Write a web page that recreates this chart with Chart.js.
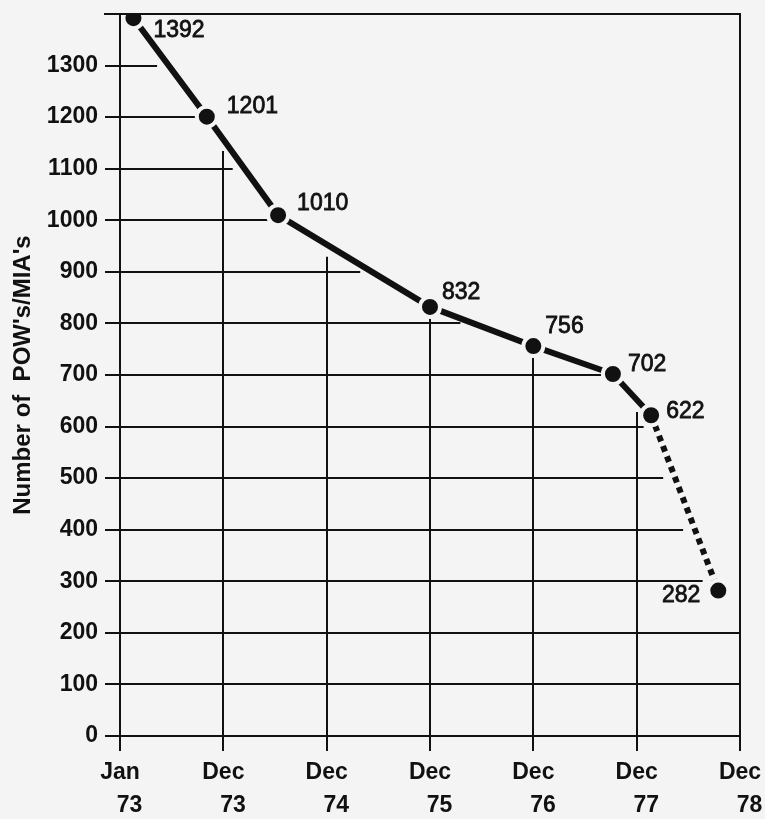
<!DOCTYPE html>
<html>
<head>
<meta charset="utf-8">
<script src="https://cdn.jsdelivr.net/npm/chart.js@4.4.1/dist/chart.umd.min.js"></script>
<style>
  html, body { margin: 0; padding: 0; background: #f4f4f4; }
  canvas { display: block; }
</style>
</head>
<body>
<canvas id="powChart" width="765" height="819"></canvas>
<script>
(function(){
  // x axis: one unit per tick interval (Jan 73, Dec 73 ... Dec 78)
  const xTickLabels = [['Jan', '   73'], ['Dec', '   73'], ['Dec', '   74'], ['Dec', '   75'], ['Dec', '   76'], ['Dec', '   77'], ['Dec', '   78']];
  const pointPositions = [0.13, 0.84, 1.53, 3.0, 4.0, 4.77, 5.14, 5.79];
  const pointValues = [1392, 1201, 1010, 832, 756, 702, 622, 282];
  const projectedFrom = 6; // segment 622 -> 282 is dotted
  const yMin = 0, yMax = 1400, yStep = 100;
  const yTitle = "Number of  POW's/MIA's";

  // label placement next to each dot (style only)
  const labelOffsets = [[20, 13], [20, -10], [19, -11], [12, -14], [12, -19], [15, -9], [15, -4], [-18, 5]];

  const BG = '#f4f4f4';
  const INK = '#111';
  const FONT = "'Liberation Sans', Arial, Helvetica, sans-serif";
  const GAP = 12;

  // crossing of the curve with a horizontal (axis 'y') or vertical (axis 'x') line
  function crossing(pts, axis, v) {
    const other = axis === 'y' ? 'x' : 'y';
    for (let i = 0; i < pts.length - 1; i++) {
      const a = pts[i], b = pts[i + 1];
      const lo = Math.min(a[axis], b[axis]), hi = Math.max(a[axis], b[axis]);
      if (v >= lo && v <= hi && hi > lo) return a[other] + (b[other] - a[other]) * (v - a[axis]) / (b[axis] - a[axis]);
    }
    return null;
  }

  const bgPlugin = {
    id: 'bg',
    beforeDraw(chart) {
      const c = chart.ctx; c.save(); c.fillStyle = BG; c.fillRect(0, 0, chart.width, chart.height); c.restore();
    }
  };

  // grid lines stop short of the curve, like the drawn original
  const gridPlugin = {
    id: 'cutGrid',
    beforeDatasetsDraw(chart) {
      const { ctx, chartArea: ca, scales: { x, y } } = chart;
      const pts = chart.getDatasetMeta(0).data.map(p => ({ x: p.x, y: p.y }));
      ctx.save();
      ctx.strokeStyle = INK; ctx.lineWidth = 2; ctx.lineCap = 'butt';
      y.ticks.forEach(t => {
        if (t.value === yMin || t.value === yMax) return;
        const py = Math.round(y.getPixelForValue(t.value));
        const cx = crossing(pts, 'y', py);
        const end = cx === null ? ca.right : cx - GAP;
        ctx.beginPath(); ctx.moveTo(ca.left, py); ctx.lineTo(end, py); ctx.stroke();
      });
      x.ticks.forEach(t => {
        if (t.value === 0 || t.value === xTickLabels.length - 1) return;
        const px = Math.round(x.getPixelForValue(t.value));
        const cy = crossing(pts, 'x', px);
        const start = cy === null ? ca.top : cy + GAP;
        ctx.beginPath(); ctx.moveTo(px, start); ctx.lineTo(px, ca.bottom); ctx.stroke();
      });
      ctx.restore();
    },
    afterDatasetsDraw(chart) {
      const { ctx, chartArea: ca, scales: { x, y } } = chart;
      ctx.save();
      ctx.strokeStyle = INK; ctx.lineWidth = 2;
      const top = Math.round(y.getPixelForValue(yMax));
      const right = Math.round(x.getPixelForValue(xTickLabels.length - 1));
      ctx.beginPath(); ctx.moveTo(ca.left - 16, top); ctx.lineTo(right, top); ctx.lineTo(right, ca.bottom); ctx.stroke();
      ctx.restore();
    }
  };

  const labelPlugin = {
    id: 'pointLabels',
    afterDatasetsDraw(chart) {
      const { ctx } = chart;
      const meta = chart.getDatasetMeta(0);
      ctx.save();
      ctx.fillStyle = INK; ctx.strokeStyle = INK; ctx.lineWidth = 0.8;
      ctx.font = '23px ' + FONT; ctx.textBaseline = 'middle';
      meta.data.forEach((p, i) => {
        const [dx, dy] = labelOffsets[i] || [14, 0];
        const txt = String(pointValues[i]);
        ctx.textAlign = dx < 0 ? 'right' : 'left';
        ctx.fillText(txt, p.x + dx, p.y + dy);
        ctx.strokeText(txt, p.x + dx, p.y + dy);
      });
      ctx.restore();
    }
  };

  const el = document.getElementById('powChart');
  new Chart(el.getContext('2d'), {
    type: 'line',
    data: {
      datasets: [{
        data: pointPositions.map((px, i) => ({ x: px, y: pointValues[i] })),
        borderColor: INK, borderWidth: 6, borderCapStyle: 'butt', tension: 0, fill: false,
        pointRadius: 10, pointHoverRadius: 10, pointBorderWidth: 4,
        pointBackgroundColor: INK, pointBorderColor: BG,
        segment: { borderDash: ctx => ctx.p0DataIndex >= projectedFrom ? [6, 5] : undefined }
      }]
    },
    options: {
      responsive: false, animation: false, events: [],
      layout: { padding: { top: 11, right: 25, left: 0, bottom: 0 } },
      plugins: { legend: { display: false }, tooltip: { enabled: false } },
      scales: {
        x: {
          type: 'linear', min: 0, max: xTickLabels.length - 1,
          grid: { drawOnChartArea: false, drawTicks: true, tickLength: 15, color: INK, lineWidth: 2 },
          border: { display: true, color: INK, width: 2 },
          ticks: {
            stepSize: 1, autoSkip: false, maxRotation: 0, padding: 5, color: INK,
            font: { family: FONT, size: 23, weight: 'bold', lineHeight: 1.45 },
            callback: v => xTickLabels[v] || ''
          },
          afterFit(s) { s.height = 83; s.paddingLeft = 0; s.paddingRight = 0; }
        },
        y: {
          min: yMin, max: yMax,
          grid: { drawOnChartArea: false, drawTicks: true, tickLength: 15, color: INK, lineWidth: 2 },
          border: { display: true, color: INK, width: 2 },
          ticks: {
            stepSize: yStep, padding: 7, color: INK,
            font: { family: FONT, size: 23, weight: 'bold' },
            callback: v => v === yMax ? '' : String(v)
          },
          title: {
            display: true, text: yTitle, color: INK,
            font: { family: FONT, size: 24, weight: 'bold' },
            padding: { top: 9, bottom: 0 }
          },
          afterFit(s) { s.width = 120; s.paddingTop = 0; s.paddingBottom = 0; }
        }
      }
    },
    plugins: [bgPlugin, gridPlugin, labelPlugin]
  });
})();
</script>
</body>
</html>
